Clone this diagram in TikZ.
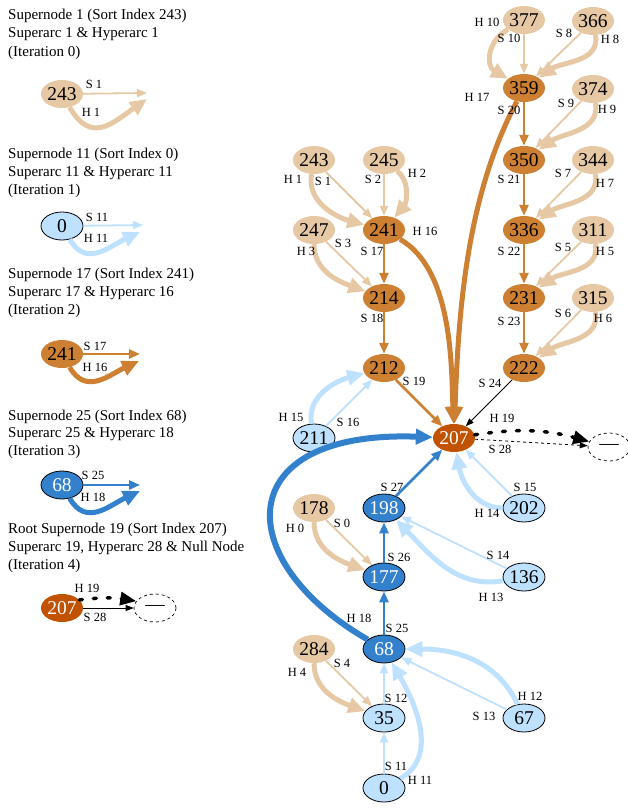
\documentclass[tikz,border=0pt]{standalone}
\usepackage{fontspec}
\setmainfont{Liberation Serif}
\usetikzlibrary{shapes.geometric,arrows.meta}
\definecolor{tanc}{RGB}{230,200,165}
\definecolor{orc}{RGB}{205,127,50}
\definecolor{dorc}{RGB}{192,82,0}
\definecolor{lbc}{RGB}{190,225,255}
\definecolor{blc}{RGB}{51,128,204}
\newcommand\myNumFont{\fontsize{19.5}{21}\selectfont}
\newcommand\myLabFont{\fontsize{12.5}{13.5}\selectfont}
\newcommand\myTxtFont{\fontsize{15}{17}\selectfont}
\tikzset{
  nb/.style={ellipse, minimum width=42pt, minimum height=28pt, inner sep=0pt, font=\myNumFont},
  tann/.style={nb, fill=tanc},
  orn/.style={nb, fill=orc},
  dorn/.style={nb, fill=dorc, text=white},
  lbn/.style={nb, fill=lbc, draw=black, line width=0.8pt},
  bln/.style={nb, fill=blc, draw=black, line width=0.8pt, text=white},
  nulln/.style={nb, fill=white, draw=black, dashed, line width=0.7pt},
  lab/.style={font=\myLabFont, inner sep=0pt},
  txt/.style={font=\myTxtFont, inner sep=0pt, anchor=base west},
  sarc/.style={line width=1.8pt, -{Triangle[length=10pt,width=8pt]}},
  marc/.style={line width=2.6pt, -{Triangle[length=11pt,width=9pt]}},
  harc/.style={line width=5pt, -{Triangle[length=17pt,width=15pt]}},
  karc/.style={line width=0.8pt, black, -{Triangle[length=8pt,width=6pt]}},
  dotarc/.style={line width=3.5pt, black, line cap=round, dash pattern=on 3pt off 11pt, -{Triangle[length=16pt,width=13pt]}},
}
\begin{document}
\begin{tikzpicture}[x=1pt,y=1pt]
\useasboundingbox (0,0) rectangle (628,-809);
% ---------------- legend texts
\node[txt] (t11) at (8,-19) {Supernode 1 (Sort Index 243)};
\node[txt] (t12) at (8,-37.5) {Superarc 1 \& Hyperarc 1};
\node[txt] (t13) at (8,-56) {(Iteration 0)};
\node[txt] (t21) at (8,-158) {Supernode 11 (Sort Index 0)};
\node[txt] (t22) at (8,-176) {Superarc 11 \& Hyperarc 11};
\node[txt] (t23) at (8,-194) {(Iteration 1)};
\node[txt] (t31) at (8,-278) {Supernode 17 (Sort Index 241)};
\node[txt] (t32) at (8,-296) {Superarc 17 \& Hyperarc 16};
\node[txt] (t33) at (8,-314) {(Iteration 2)};
\node[txt] (t41) at (8,-420) {Supernode 25 (Sort Index 68)};
\node[txt] (t42) at (8,-437.5) {Superarc 25 \& Hyperarc 18};
\node[txt] (t43) at (8,-455) {(Iteration 3)};
\node[txt] (t51) at (8,-533) {Root Supernode 19 (Sort Index 207)};
\node[txt] (t52) at (8,-551) {Superarc 19, Hyperarc 28 \& Null Node};
\node[txt] (t53) at (8,-569) {(Iteration 4)};
% ---------------- legend nodes
\node[tann] (L243) at (62,-94) {243};
\node[lbn] (L0) at (62,-226) {0};
\node[orn] (L241) at (62,-354) {241};
\node[bln] (L68) at (62,-485) {68};
\node[dorn] (L207) at (62,-608) {207};
\node[nulln] (Lnull) at (155,-608) {—};
\coordinate (e1s) at (147,-93);
\coordinate (e1h) at (147,-99);
\coordinate (e2s) at (143,-225);
\coordinate (e2h) at (140,-232);
\coordinate (e3s) at (140,-354);
\coordinate (e3h) at (139,-361);
\coordinate (e4s) at (140,-485);
\coordinate (e4h) at (140,-491);
\draw[sarc,tanc] (L243) -- (e1s);
\draw[harc,tanc] (L243) to[out=-60,in=215,looseness=1.4] (e1h);
\draw[sarc,lbc] (L0) -- (e2s);
\draw[harc,lbc] (L0) to[out=-60,in=205,looseness=1.2] (e2h);
\draw[marc,orc] (L241) -- (e3s);
\draw[harc,orc] (L241) to[out=-60,in=205,looseness=1.2] (e3h);
\draw[marc,blc] (L68) -- (e4s);
\draw[harc,blc] (L68) to[out=-60,in=205,looseness=1.2] (e4h);
\draw[karc] (L207) -- (Lnull);
\draw[dotarc] (L207.25) to[bend left=8] (Lnull.160);
\node[lab] (ls1) at (94,-84) {S 1};
\node[lab] (lh1) at (91,-112) {H 1};
\node[lab] (ls11) at (97,-217) {S 11};
\node[lab] (lh11) at (96,-238) {H 11};
\node[lab] (ls17) at (95,-346) {S 17};
\node[lab] (lh16) at (95,-367) {H 16};
\node[lab] (ls25) at (93,-475) {S 25};
\node[lab] (lh18) at (93,-497) {H 18};
\node[lab] (lh19) at (87,-588) {H 19};
\node[lab] (ls28) at (95,-617) {S 28};
% ---------------- main nodes
\node[tann] (n377) at (524,-20) {377};
\node[tann] (n366) at (593,-21) {366};
\node[orn]  (n359) at (524,-88) {359};
\node[tann] (n374) at (593,-89) {374};
\node[orn]  (n350) at (524,-160) {350};
\node[tann] (n344) at (593,-160) {344};
\node[tann] (n243) at (314,-160) {243};
\node[tann] (n245) at (384,-160) {245};
\node[tann] (n247) at (314,-230) {247};
\node[orn]  (n241) at (384,-230) {241};
\node[orn]  (n336) at (524,-230) {336};
\node[tann] (n311) at (593,-230) {311};
\node[orn]  (n214) at (384,-298) {214};
\node[orn]  (n231) at (524,-298) {231};
\node[tann] (n315) at (593,-298) {315};
\node[orn]  (n212) at (384,-368) {212};
\node[orn]  (n222) at (524,-368) {222};
\node[lbn]  (n211) at (314,-438) {211};
\node[dorn] (n207) at (454,-438) {207};
\node[nulln] (nnull) at (609,-447) {—};
\node[tann] (n178) at (314,-508) {178};
\node[bln]  (n198) at (384,-508) {198};
\node[lbn]  (n202) at (524,-508) {202};
\node[bln]  (n177) at (384,-577) {177};
\node[lbn]  (n136) at (524,-577) {136};
\node[tann] (n284) at (314,-649) {284};
\node[bln]  (n68)  at (384,-649) {68};
\node[lbn]  (n35)  at (384,-718) {35};
\node[lbn]  (n67)  at (524,-718) {67};
\node[lbn]  (n0)   at (384,-788) {0};
% ---------------- tan edges
\draw[sarc,tanc] (n377) -- (n359);
\draw[harc,tanc] (n377) to[out=210,in=150,looseness=1.3] (n359);
\draw[sarc,tanc] (n366) -- (n359);
\draw[harc,tanc] (n366) to[out=-80,in=35] (n359);
\draw[sarc,tanc] (n374) -- (n350);
\draw[harc,tanc] (n374) to[out=-80,in=35] (n350);
\draw[sarc,tanc] (n344) -- (n336);
\draw[harc,tanc] (n344) to[out=-80,in=35] (n336);
\draw[sarc,tanc] (n311) -- (n231);
\draw[harc,tanc] (n311) to[out=-80,in=35] (n231);
\draw[sarc,tanc] (n315) -- (n222);
\draw[harc,tanc] (n315) to[out=-80,in=35] (n222);
\draw[sarc,tanc] (n243) -- (n241);
\draw[harc,tanc] (n243) to[out=-100,in=165] (n241);
\draw[sarc,tanc] (n245) -- (n241);
\draw[harc,tanc] (n245) to[out=-40,in=50] (n241);
\draw[sarc,tanc] (n247) -- (n214);
\draw[harc,tanc] (n247) to[out=-90,in=160] (n214);
\draw[sarc,tanc] (n178) -- (n177);
\draw[harc,tanc] (n178) to[out=-90,in=160] (n177);
\draw[sarc,tanc] (n284) -- (n35);
\draw[harc,tanc] (n284) to[out=-90,in=160] (n35);
% ---------------- orange edges
\draw[marc,orc] (n359) -- (n350);
\draw[marc,orc] (n350) -- (n336);
\draw[marc,orc] (n336) -- (n231);
\draw[marc,orc] (n231) -- (n222);
\draw[marc,orc] (n241) -- (n214);
\draw[marc,orc] (n214) -- (n212);
\draw[marc,orc] (n212) -- (n207);
\draw[harc,orc] (n241) to[out=-30,in=92,looseness=0.8] (n207);
\draw[harc,orc] (n359) to[out=-118,in=88,looseness=0.85] (n207);
\draw[karc] (n222) -- (n207);
% ---------------- light blue edges
\draw[sarc,lbc] (n211) -- (n212);
\draw[harc,lbc] (n211) to[out=100,in=195] (n212);
\draw[sarc,lbc] (n202) -- (n207);
\draw[harc,lbc] (n202) to[out=180,in=-80] (n207);
\draw[sarc,lbc] (n136) -- (n198);
\draw[harc,lbc] (n136) to[out=190,in=-45] (n198);
\draw[sarc,lbc] (n67) -- (n68);
\draw[harc,lbc] (n67) to[out=115,in=0] (n68);
\draw[sarc,lbc] (n35) -- (n68);
\draw[sarc,lbc] (n0) -- (n35);
\draw[harc,lbc] (n0) to[out=30,in=-60] (n68);
% ---------------- blue edges
\draw[marc,blc] (n68) -- (n177);
\draw[marc,blc] (n177) -- (n198);
\draw[marc,blc] (n198) -- (n207);
\draw[harc,blc,line width=6pt] (n68) .. controls (230,-560) and (230,-430) .. (n207);
% ---------------- root edges
\draw[karc,dashed] (n207) -- (nnull);
\draw[dotarc] (n207) to[bend left=12] (nnull);
% ---------------- labels
\node[lab] (mh10) at (487,-22) {H 10};
\node[lab] (ms10) at (509,-38) {S 10};
\node[lab] (ms8) at (564,-33) {S 8};
\node[lab] (mh8) at (610,-39) {H 8};
\node[lab] (mh17) at (477,-97) {H 17};
\node[lab] (ms20) at (509,-110) {S 20};
\node[lab] (ms9) at (566,-103) {S 9};
\node[lab] (mh9) at (607,-109) {H 9};
\node[lab] (ms21) at (509,-179) {S 21};
\node[lab] (ms7) at (563,-173) {S 7};
\node[lab] (mh7) at (605,-183) {H 7};
\node[lab] (mh1) at (293,-179) {H 1};
\node[lab] (ms1) at (323,-181) {S 1};
\node[lab] (ms2) at (373,-179) {S 2};
\node[lab] (mh2) at (417,-173) {H 2};
\node[lab] (mh16) at (425,-231) {H 16};
\node[lab] (mh3) at (306,-251) {H 3};
\node[lab] (ms3) at (343,-243) {S 3};
\node[lab] (ms17) at (372,-251) {S 17};
\node[lab] (ms22) at (509,-251) {S 22};
\node[lab] (ms5) at (563,-247) {S 5};
\node[lab] (mh5) at (605,-251) {H 5};
\node[lab] (ms18) at (372,-318) {S 18};
\node[lab] (ms23) at (509,-321) {S 23};
\node[lab] (ms6) at (563,-313) {S 6};
\node[lab] (mh6) at (603,-318) {H 6};
\node[lab] (ms19) at (414,-381) {S 19};
\node[lab] (ms24) at (490,-383) {S 24};
\node[lab] (mh15) at (291,-417) {H 15};
\node[lab] (ms16) at (348,-422) {S 16};
\node[lab] (mh19) at (502,-418) {H 19};
\node[lab] (ms28) at (500,-449) {S 28};
\node[lab] (ms27) at (392,-487) {S 27};
\node[lab] (ms15) at (525,-487) {S 15};
\node[lab] (mh14) at (487,-513) {H 14};
\node[lab] (mh0) at (295,-528) {H 0};
\node[lab] (ms0) at (342,-523) {S 0};
\node[lab] (ms26) at (399,-557) {S 26};
\node[lab] (ms14) at (498,-555) {S 14};
\node[lab] (mh13) at (491,-597) {H 13};
\node[lab] (mh18) at (359,-618) {H 18};
\node[lab] (ms25) at (397,-628) {S 25};
\node[lab] (mh4) at (297,-672) {H 4};
\node[lab] (ms4) at (342,-663) {S 4};
\node[lab] (ms12) at (396,-698) {S 12};
\node[lab] (mh12) at (530,-696) {H 12};
\node[lab] (ms13) at (484,-716) {S 13};
\node[lab] (ms11) at (396,-766) {S 11};
\node[lab] (mh11) at (420,-780) {H 11};
\end{tikzpicture}
\end{document}
